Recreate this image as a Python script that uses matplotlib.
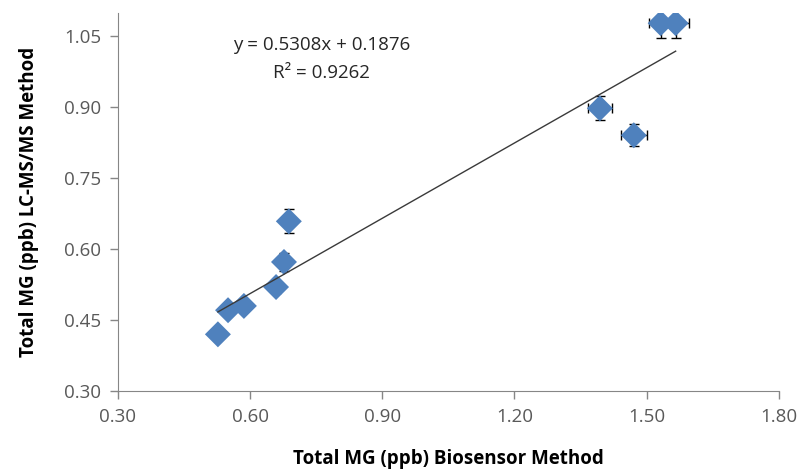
import numpy as np
import matplotlib.pyplot as plt

# biosensor (x) vs LC-MS/MS (y), total MG in ppb
biosensor = [0.527, 0.550, 0.586, 0.659, 0.677, 0.688, 1.394, 1.471, 1.532, 1.566]
lcms = [0.420, 0.471, 0.480, 0.520, 0.573, 0.659, 0.898, 0.841, 1.078, 1.078]
x_err = [0.012, 0.012, 0.012, 0.012, 0.012, 0.012, 0.027, 0.030, 0.027, 0.030]
y_err = [0.010, 0.010, 0.010, 0.012, 0.020, 0.025, 0.025, 0.023, 0.032, 0.032]

x_ticks = [0.30, 0.60, 0.90, 1.20, 1.50, 1.80]
y_ticks = [0.30, 0.45, 0.60, 0.75, 0.90, 1.05]

slope, intercept, r2 = 0.5308, 0.1876, 0.9262

plt.rcParams['font.family'] = ['Open Sans', 'DejaVu Sans']

fig = plt.figure(figsize=(8.02, 4.74), dpi=100)
ax = fig.add_axes([0.147, 0.175, 0.824, 0.798])

ax.errorbar(biosensor, lcms, xerr=x_err, yerr=y_err, fmt='none', ecolor='black',
            elinewidth=1, capsize=3.5, capthick=1, zorder=2)
ax.scatter(biosensor, lcms, marker='D', s=175, color='#4F81BD', edgecolors='none', zorder=3)

xs = np.array([min(biosensor), max(biosensor)])
ax.plot(xs, slope * xs + intercept, color='#3a3a3a', linewidth=1, zorder=4)

ax.text(0.762, 1.031, f"y = {slope}x + {intercept}", ha='center', va='center', fontsize=13.5, color='#262626')
ax.text(0.762, 0.972, f"R² = {r2}", ha='center', va='center', fontsize=13.5, color='#262626')

ax.set_xlim(0.30, 1.80)
ax.set_ylim(0.30, 1.10)
ax.set_xticks(x_ticks)
ax.set_yticks(y_ticks)
ax.set_xticklabels([f"{v:.2f}" for v in x_ticks])
ax.set_yticklabels([f"{v:.2f}" for v in y_ticks])
ax.tick_params(colors='#595959', labelsize=13.5, length=6, width=1, pad=6)
ax.tick_params(axis='both', color='#868686')

for s in ['top', 'right']:
    ax.spines[s].set_visible(False)
for s in ['left', 'bottom']:
    ax.spines[s].set_color('#868686')

ax.set_xlabel("Total MG (ppb) Biosensor Method", fontsize=13.5, fontweight='bold', labelpad=17)
ax.set_ylabel("Total MG (ppb) LC-MS/MS Method", fontsize=13.5, fontweight='bold', labelpad=18)

fig.savefig("out.png", dpi=100)
